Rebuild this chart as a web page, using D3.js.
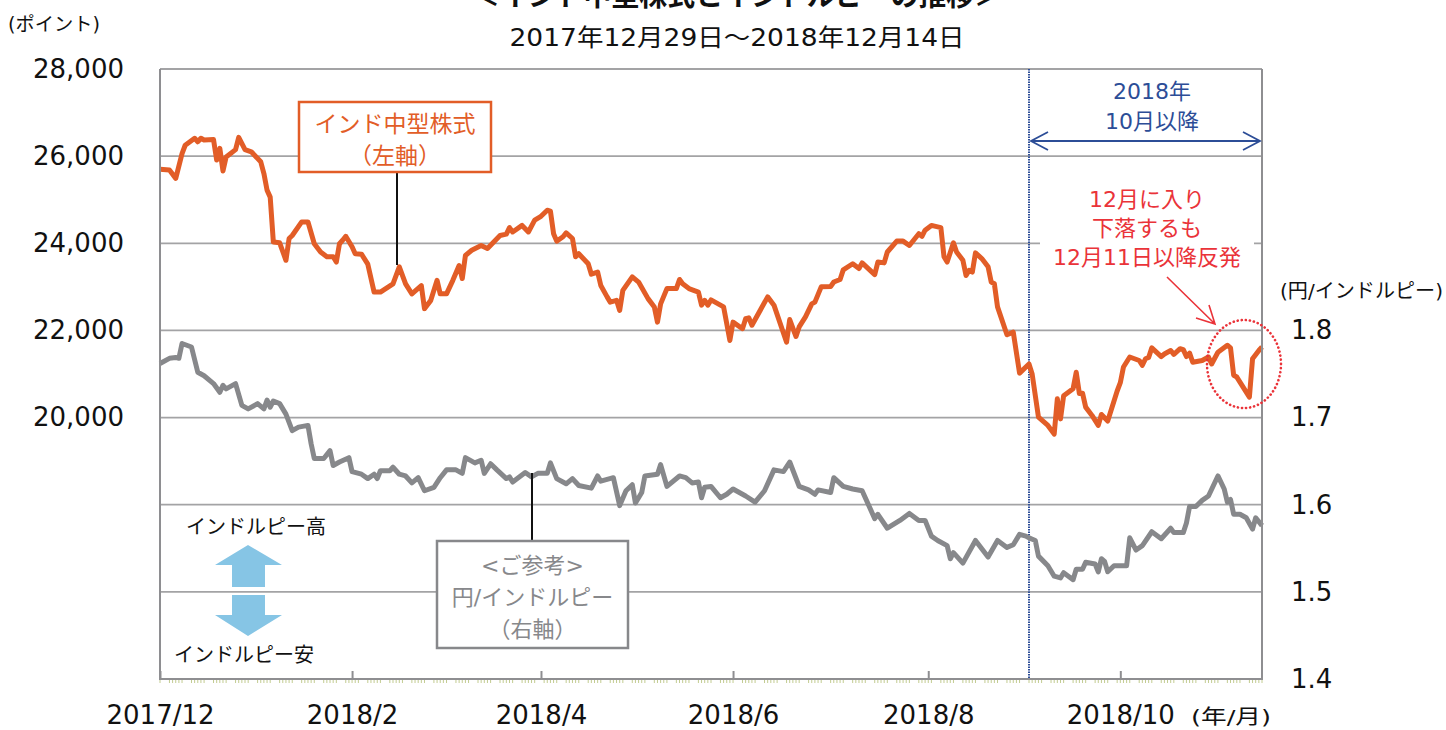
<!DOCTYPE html>
<html>
<head>
<meta charset="utf-8">
<script src="https://cdnjs.cloudflare.com/ajax/libs/d3/7.8.5/d3.min.js"></script>
<style>
  body { margin: 0; background: #fff; }
  text { font-family: "DejaVu Sans", "Noto Sans CJK JP", sans-serif; }
</style>
</head>
<body>
<div id="chart"></div>
<script>
// Data
// =================================
// India mid-cap index (left axis)
var midDates = [
  "2017-12-29","2018-01-01","2018-01-03","2018-01-05","2018-01-06","2018-01-09","2018-01-10","2018-01-11","2018-01-12","2018-01-15","2018-01-16","2018-01-17","2018-01-18","2018-01-19","2018-01-22","2018-01-23","2018-01-25","2018-01-27","2018-01-30","2018-01-31",
  "2018-02-01","2018-02-02","2018-02-03","2018-02-05","2018-02-07","2018-02-08","2018-02-09","2018-02-12","2018-02-14","2018-02-16","2018-02-18","2018-02-20","2018-02-22","2018-02-23","2018-02-24","2018-02-25","2018-02-26","2018-02-28",
  "2018-03-01","2018-03-03","2018-03-05","2018-03-07","2018-03-09","2018-03-13","2018-03-15","2018-03-17","2018-03-19","2018-03-22","2018-03-23","2018-03-25","2018-03-27","2018-03-28","2018-03-30",
  "2018-04-01","2018-04-03","2018-04-04","2018-04-05","2018-04-07","2018-04-10","2018-04-12","2018-04-14","2018-04-16","2018-04-18","2018-04-19","2018-04-20","2018-04-23","2018-04-25","2018-04-27","2018-04-29",
  "2018-05-01","2018-05-02","2018-05-03","2018-05-04","2018-05-06","2018-05-07","2018-05-09","2018-05-10","2018-05-11","2018-05-14","2018-05-15","2018-05-17","2018-05-18","2018-05-20","2018-05-21","2018-05-23","2018-05-24","2018-05-25","2018-05-28","2018-05-30",
  "2018-06-02","2018-06-04","2018-06-05","2018-06-06","2018-06-08","2018-06-11","2018-06-12","2018-06-13","2018-06-15","2018-06-18","2018-06-19","2018-06-20","2018-06-21","2018-06-22","2018-06-26","2018-06-28","2018-06-29",
  "2018-07-02","2018-07-03","2018-07-04","2018-07-05","2018-07-10","2018-07-12","2018-07-16","2018-07-17","2018-07-19","2018-07-20","2018-07-22","2018-07-24","2018-07-25","2018-07-27","2018-07-30","2018-07-31",
  "2018-08-02","2018-08-03","2018-08-06","2018-08-08","2018-08-09","2018-08-13","2018-08-14","2018-08-16","2018-08-17","2018-08-20","2018-08-22","2018-08-24","2018-08-27","2018-08-28","2018-08-29","2018-08-31",
  "2018-09-03","2018-09-04","2018-09-05","2018-09-07","2018-09-08","2018-09-10","2018-09-11","2018-09-12","2018-09-13","2018-09-14","2018-09-16","2018-09-18","2018-09-19","2018-09-20","2018-09-21","2018-09-24","2018-09-26","2018-09-28",
  "2018-10-01","2018-10-02","2018-10-04","2018-10-07","2018-10-09","2018-10-10","2018-10-11","2018-10-12","2018-10-15","2018-10-16","2018-10-17","2018-10-18","2018-10-19","2018-10-21","2018-10-23","2018-10-24","2018-10-26","2018-10-29","2018-10-30","2018-10-31",
  "2018-11-02","2018-11-05","2018-11-06","2018-11-07","2018-11-08","2018-11-09","2018-11-12","2018-11-13","2018-11-15","2018-11-16","2018-11-18","2018-11-19","2018-11-20","2018-11-21","2018-11-22","2018-11-25","2018-11-27","2018-11-28","2018-11-30",
  "2018-12-03","2018-12-04","2018-12-05","2018-12-06","2018-12-10","2018-12-11","2018-12-13","2018-12-14"
];
var midValues = [
  25700,25680,25490,26060,26250,26410,26330,26410,26370,26380,25910,26180,25660,25980,26150,26430,26150,26100,25870,25600,
  25220,25060,24030,24010,23610,24110,24180,24490,24490,23990,23800,23690,23690,23570,23990,24070,24160,23920,
  23760,23750,23520,22880,22880,23070,23460,23070,22840,23030,22500,22690,23150,22840,22840,
  23150,23490,23190,23720,23840,23950,23880,24030,24180,24210,24360,24260,24410,24260,24530,24620,
  24760,24740,24220,24050,24150,24240,24110,23690,23760,23530,23290,23340,23030,22770,22650,22690,22460,22920,23230,23110,
  22730,22540,22190,22610,22960,22960,23170,23070,22960,22880,22580,22690,22580,22700,22540,21770,22190,
  22040,22270,22290,22120,22770,22580,21730,22250,21860,22080,22310,22610,22650,23000,23010,23110,
  23170,23390,23530,23420,23550,23280,23570,23550,23800,24050,24050,23950,24220,24160,24300,24410,
  24360,23690,23570,24010,23800,23610,23260,23380,23340,23780,23650,23460,23110,23070,22540,21900,21960,21020,
  21230,21000,20010,19820,19620,20430,19970,20500,20660,21040,20550,20560,20240,20050,19820,20070,19920,20610,20800,21160,
  21390,21310,21200,21350,21380,21600,21400,21460,21540,21450,21580,21560,21400,21480,21270,21310,21390,21230,21500,
  21660,21600,20970,20930,20470,21350,21540,21620
];

// Yen per Indian rupee (right axis)
var inrDates = [
  "2017-12-29","2018-01-01","2018-01-03","2018-01-04","2018-01-05","2018-01-08","2018-01-10","2018-01-12","2018-01-15","2018-01-17","2018-01-18","2018-01-19","2018-01-22","2018-01-24","2018-01-26","2018-01-29","2018-01-31",
  "2018-02-01","2018-02-02","2018-02-03","2018-02-05","2018-02-07","2018-02-09","2018-02-11","2018-02-14","2018-02-15","2018-02-16","2018-02-19","2018-02-21","2018-02-22","2018-02-24","2018-02-27","2018-02-28",
  "2018-03-03","2018-03-05","2018-03-07","2018-03-08","2018-03-09","2018-03-12","2018-03-13","2018-03-15","2018-03-17","2018-03-19","2018-03-21","2018-03-23","2018-03-26","2018-03-28","2018-03-30",
  "2018-04-02","2018-04-04","2018-04-05","2018-04-08","2018-04-10","2018-04-11","2018-04-13","2018-04-15","2018-04-18","2018-04-19","2018-04-20","2018-04-24","2018-04-26","2018-04-28",
  "2018-05-01","2018-05-02","2018-05-04","2018-05-07","2018-05-09","2018-05-11","2018-05-15","2018-05-17","2018-05-18","2018-05-22","2018-05-24","2018-05-26","2018-05-28","2018-05-29","2018-05-31",
  "2018-06-01","2018-06-05","2018-06-06","2018-06-08","2018-06-12","2018-06-14","2018-06-16","2018-06-18","2018-06-19","2018-06-20","2018-06-22","2018-06-25","2018-06-27","2018-06-29",
  "2018-07-03","2018-07-06","2018-07-09","2018-07-12","2018-07-15","2018-07-17","2018-07-20","2018-07-23","2018-07-25","2018-07-26","2018-07-30","2018-07-31",
  "2018-08-03","2018-08-06","2018-08-09","2018-08-13","2018-08-14","2018-08-17","2018-08-21","2018-08-24","2018-08-27","2018-08-29","2018-08-31",
  "2018-09-02","2018-09-05","2018-09-06","2018-09-07","2018-09-10","2018-09-14","2018-09-18","2018-09-21","2018-09-24","2018-09-26","2018-09-28","2018-09-30",
  "2018-10-01","2018-10-03","2018-10-04","2018-10-07","2018-10-09","2018-10-11","2018-10-12","2018-10-15","2018-10-16","2018-10-18","2018-10-19","2018-10-22","2018-10-23","2018-10-24","2018-10-25","2018-10-26","2018-10-28",
  "2018-11-01","2018-11-02","2018-11-04","2018-11-06","2018-11-09","2018-11-12","2018-11-15","2018-11-16","2018-11-19","2018-11-20","2018-11-21","2018-11-23","2018-11-25","2018-11-27","2018-11-30",
  "2018-12-02","2018-12-03","2018-12-04","2018-12-05","2018-12-07","2018-12-09","2018-12-11","2018-12-12","2018-12-14"
];
var inrValues = [
  1.762,1.768,1.769,1.768,1.785,1.781,1.752,1.748,1.739,1.729,1.737,1.733,1.739,1.714,1.710,1.716,1.710,
  1.720,1.712,1.719,1.716,1.704,1.685,1.689,1.691,1.670,1.653,1.653,1.662,1.645,1.649,1.654,1.638,
  1.635,1.630,1.635,1.630,1.639,1.639,1.643,1.635,1.633,1.625,1.631,1.616,1.620,1.631,1.640,
  1.640,1.636,1.654,1.648,1.651,1.636,1.647,1.640,1.630,1.632,1.626,1.637,1.632,1.636,
  1.636,1.648,1.630,1.624,1.630,1.622,1.619,1.633,1.627,1.631,1.599,1.616,1.623,1.602,1.614,
  1.633,1.635,1.646,1.621,1.633,1.631,1.625,1.626,1.608,1.620,1.621,1.608,1.612,1.618,
  1.610,1.603,1.616,1.640,1.638,1.649,1.621,1.617,1.612,1.617,1.614,1.631,
  1.621,1.618,1.616,1.584,1.589,1.573,1.582,1.590,1.582,1.582,1.564,
  1.559,1.553,1.538,1.545,1.533,1.559,1.540,1.559,1.551,1.554,1.566,1.564,
  1.562,1.559,1.541,1.530,1.518,1.516,1.522,1.514,1.526,1.526,1.534,1.532,1.523,1.538,1.535,1.523,1.530,
  1.530,1.562,1.548,1.553,1.569,1.561,1.573,1.568,1.568,1.579,1.598,1.598,1.605,1.610,1.633,
  1.618,1.603,1.606,1.589,1.589,1.585,1.572,1.585,1.576
];

// Axis ticks
var leftGridValues = [14000, 16000, 18000, 20000, 22000, 24000, 26000, 28000];
var leftTickValues = [20000, 22000, 24000, 26000, 28000];
var rightTickValues = [1.4, 1.5, 1.6, 1.7, 1.8];
var xTickDates = ["2017-12-29", "2018-02-28", "2018-04-29", "2018-06-29", "2018-08-30", "2018-10-30"];
var xTickLabels = ["2017/12", "2018/2", "2018/4", "2018/6", "2018/8", "2018/10"];
var startDate = "2017-12-29";
var endDate = "2018-12-14";
var octStart = "2018-10-01";

var parseDate = d3.timeParse("%Y-%m-%d");

var midData = midDates.map(function(d, i) { return {date: parseDate(d), value: midValues[i]}; });
var inrData = inrDates.map(function(d, i) { return {date: parseDate(d), value: inrValues[i]}; });

// Set up our chart
var svgWidth = 1446;
var svgHeight = 730;

var margin = {top: 69, right: 184, bottom: 51, left: 160};
var plotRight = svgWidth - margin.right;
var plotBottom = svgHeight - margin.bottom;

var orange = "#e25d27";
var grey = "#87888b";
var gridColor = "#a3a3a5";
var blue = "#2c4d97";
var red = "#ea3339";

var svg = d3.select("#chart")
    .append("svg")
    .attr("width", svgWidth)
    .attr("height", svgHeight);

// Scales
var xTimeScale = d3.scaleTime()
    .domain([parseDate(startDate), parseDate(endDate)])
    .range([margin.left, plotRight]);

var yLeftScale = d3.scaleLinear()
    .domain([14000, 28000])
    .range([plotBottom, margin.top]);

var yRightScale = d3.scaleLinear()
    .domain([1.4, 2.1])
    .range([plotBottom, margin.top]);

// Gridlines
svg.append("g")
    .selectAll("line")
    .data(leftGridValues)
    .enter()
    .append("line")
    .attr("x1", margin.left)
    .attr("x2", plotRight)
    .attr("y1", d => yLeftScale(d))
    .attr("y2", d => yLeftScale(d))
    .attr("stroke", gridColor)
    .attr("stroke-width", 1.8);

// White backing behind the red note (hides the gridline there)
svg.append("rect")
    .attr("x", 1040).attr("y", 184)
    .attr("width", 214).attr("height", 86)
    .attr("fill", "#fff");

// Dotted line at Oct 2018
svg.append("line")
    .attr("x1", xTimeScale(parseDate(octStart)))
    .attr("x2", xTimeScale(parseDate(octStart)))
    .attr("y1", margin.top)
    .attr("y2", plotBottom)
    .attr("stroke", blue)
    .attr("stroke-width", 2)
    .attr("stroke-dasharray", "1.5,1");

// Lines
var inrLine = d3.line()
    .x(d => xTimeScale(d.date))
    .y(d => yRightScale(d.value));

var midLine = d3.line()
    .x(d => xTimeScale(d.date))
    .y(d => yLeftScale(d.value));

svg.append("path")
    .datum(inrData)
    .attr("d", inrLine)
    .attr("fill", "none")
    .attr("stroke", grey)
    .attr("stroke-width", 5)
    .attr("stroke-linejoin", "round");

svg.append("path")
    .datum(midData)
    .attr("d", midLine)
    .attr("fill", "none")
    .attr("stroke", orange)
    .attr("stroke-width", 5)
    .attr("stroke-linejoin", "round");

// Frame
svg.append("path")
    .attr("d", `M${margin.left},${margin.top}V${plotBottom}H${plotRight}V${margin.top}`)
    .attr("fill", "none")
    .attr("stroke", "#8e8e91")
    .attr("stroke-width", 2);

// Minor (daily) ticks under the x axis
var weekdays = d3.timeDay.range(parseDate(startDate), d3.timeDay.offset(parseDate(endDate), 1))
    .filter(d => d.getDay() !== 0 && d.getDay() !== 6);
svg.append("g")
    .selectAll("line")
    .data(weekdays)
    .enter()
    .append("line")
    .attr("x1", d => xTimeScale(d))
    .attr("x2", d => xTimeScale(d))
    .attr("y1", plotBottom + 1)
    .attr("y2", plotBottom + 4)
    .attr("stroke", "#c3cc92")
    .attr("stroke-width", 1);

// Axes
var bottomAxis = d3.axisBottom(xTimeScale)
    .tickValues(xTickDates.map(parseDate))
    .tickFormat((d, i) => xTickLabels[i])
    .tickSizeInner(-8)
    .tickSizeOuter(0)
    .tickPadding(27);

var leftAxis = d3.axisLeft(yLeftScale)
    .tickValues(leftTickValues)
    .tickFormat(d3.format(","))
    .tickSize(0)
    .tickPadding(36);

var rightAxis = d3.axisRight(yRightScale)
    .tickValues(rightTickValues)
    .tickFormat(d3.format(".1f"))
    .tickSize(0)
    .tickPadding(29);

function styleAxis(g) {
    g.select(".domain").remove();
    g.selectAll("line").attr("stroke", "#8e8e91").attr("stroke-width", 2);
    g.selectAll("text")
        .attr("font-size", 26)
        .attr("fill", "#111")
        .style("font-family", "'DejaVu Sans', sans-serif");
}

svg.append("g")
    .attr("transform", `translate(0, ${plotBottom})`)
    .call(bottomAxis)
    .call(styleAxis);

svg.append("g")
    .attr("transform", `translate(${margin.left}, 0)`)
    .call(leftAxis)
    .call(styleAxis);

svg.append("g")
    .attr("transform", `translate(${plotRight}, 0)`)
    .call(rightAxis)
    .call(styleAxis);

// Titles and unit labels
svg.append("text")
    .attr("x", 737).attr("y", 6)
    .attr("text-anchor", "middle")
    .attr("font-size", 28)
    .attr("font-weight", "bold")
    .attr("textLength", 530)
    .attr("lengthAdjust", "spacingAndGlyphs")
    .attr("fill", "#111")
    .text("＜インド中型株式とインドルピーの推移＞");

svg.append("text")
    .attr("x", 737).attr("y", 46)
    .attr("text-anchor", "middle")
    .attr("font-size", 24)
    .attr("textLength", 455)
    .attr("lengthAdjust", "spacingAndGlyphs")
    .attr("fill", "#111")
    .text("2017年12月29日～2018年12月14日");

svg.append("text")
    .attr("x", 8).attr("y", 31)
    .attr("font-size", 19)
    .attr("textLength", 92)
    .attr("lengthAdjust", "spacingAndGlyphs")
    .attr("fill", "#111")
    .text("(ポイント)");

svg.append("text")
    .attr("x", 1280).attr("y", 298)
    .attr("font-size", 20)
    .attr("textLength", 163)
    .attr("lengthAdjust", "spacingAndGlyphs")
    .attr("fill", "#111")
    .text("(円/インドルピー)");

svg.append("text")
    .attr("x", 1191).attr("y", 724)
    .attr("font-size", 20)
    .attr("textLength", 80)
    .attr("lengthAdjust", "spacingAndGlyphs")
    .attr("fill", "#111")
    .text("(年/月)");

// Series label boxes
function labelBox(x, y, w, h, color, lines, lineGap, fontSize) {
    svg.append("rect")
        .attr("x", x).attr("y", y)
        .attr("width", w).attr("height", h)
        .attr("fill", "#fff")
        .attr("stroke", color)
        .attr("stroke-width", 2.5);
    lines.forEach(function(t, i) {
        svg.append("text")
            .attr("x", x + w / 2)
            .attr("y", y + lineGap[0] + i * lineGap[1])
            .attr("text-anchor", "middle")
            .attr("font-size", fontSize)
            .attr("fill", color)
            .text(t);
    });
}

svg.append("line")
    .attr("x1", 397).attr("x2", 397)
    .attr("y1", 172).attr("y2", 265)
    .attr("stroke", "#111").attr("stroke-width", 2);
labelBox(299, 102, 192, 70, orange, ["インド中型株式", "（左軸）"], [30, 32], 23);

svg.append("line")
    .attr("x1", 532).attr("x2", 532)
    .attr("y1", 473).attr("y2", 541)
    .attr("stroke", "#111").attr("stroke-width", 2);
labelBox(437, 541, 191, 107, grey, ["<ご参考>", "円/インドルピー", "（右軸）"], [32, 32], 22);

// Rupee up / down arrows
svg.append("path")
    .attr("d", "M248,545 L282,565 L265,565 L265,587 L232,587 L232,565 L215,565 Z")
    .attr("fill", "#86c5e5");
svg.append("path")
    .attr("d", "M232,595 L265,595 L265,615 L282,615 L248,636 L215,615 L232,615 Z")
    .attr("fill", "#86c5e5");

svg.append("text")
    .attr("x", 256).attr("y", 534)
    .attr("text-anchor", "middle")
    .attr("font-size", 20)
    .attr("fill", "#111")
    .text("インドルピー高");

svg.append("text")
    .attr("x", 244).attr("y", 662)
    .attr("text-anchor", "middle")
    .attr("font-size", 20)
    .attr("fill", "#111")
    .text("インドルピー安");

// "Since Oct 2018" note with double arrow
var arrowY = 141;
var arrowX1 = xTimeScale(parseDate(octStart)) + 2;
var arrowX2 = plotRight - 2;
svg.append("path")
    .attr("d", `M${arrowX1},${arrowY}H${arrowX2}
                M${arrowX1 + 17},${arrowY - 9}L${arrowX1},${arrowY}L${arrowX1 + 17},${arrowY + 9}
                M${arrowX2 - 17},${arrowY - 9}L${arrowX2},${arrowY}L${arrowX2 - 17},${arrowY + 9}`)
    .attr("fill", "none")
    .attr("stroke", blue)
    .attr("stroke-width", 1.8);

svg.append("text")
    .attr("x", 1152).attr("y", 99)
    .attr("text-anchor", "middle")
    .attr("font-size", 22)
    .attr("fill", blue)
    .text("2018年");
svg.append("text")
    .attr("x", 1152).attr("y", 129)
    .attr("text-anchor", "middle")
    .attr("font-size", 22)
    .attr("fill", blue)
    .text("10月以降");

// Red note about December
var redLines = ["12月に入り", "下落するも", "12月11日以降反発"];
redLines.forEach(function(t, i) {
    svg.append("text")
        .attr("x", 1147).attr("y", 207 + i * 29)
        .attr("text-anchor", "middle")
        .attr("font-size", 22)
        .attr("fill", red)
        .text(t);
});

svg.append("path")
    .attr("d", "M1167,277 L1215,324 M1196,318 L1215,324 L1209,305")
    .attr("fill", "none")
    .attr("stroke", red)
    .attr("stroke-width", 1.6);

svg.append("ellipse")
    .attr("cx", 1244).attr("cy", 364)
    .attr("rx", 37).attr("ry", 44)
    .attr("fill", "none")
    .attr("stroke", red)
    .attr("stroke-width", 2.6)
    .attr("stroke-dasharray", "0.1,4")
    .attr("stroke-linecap", "round");
</script>
</body>
</html>
